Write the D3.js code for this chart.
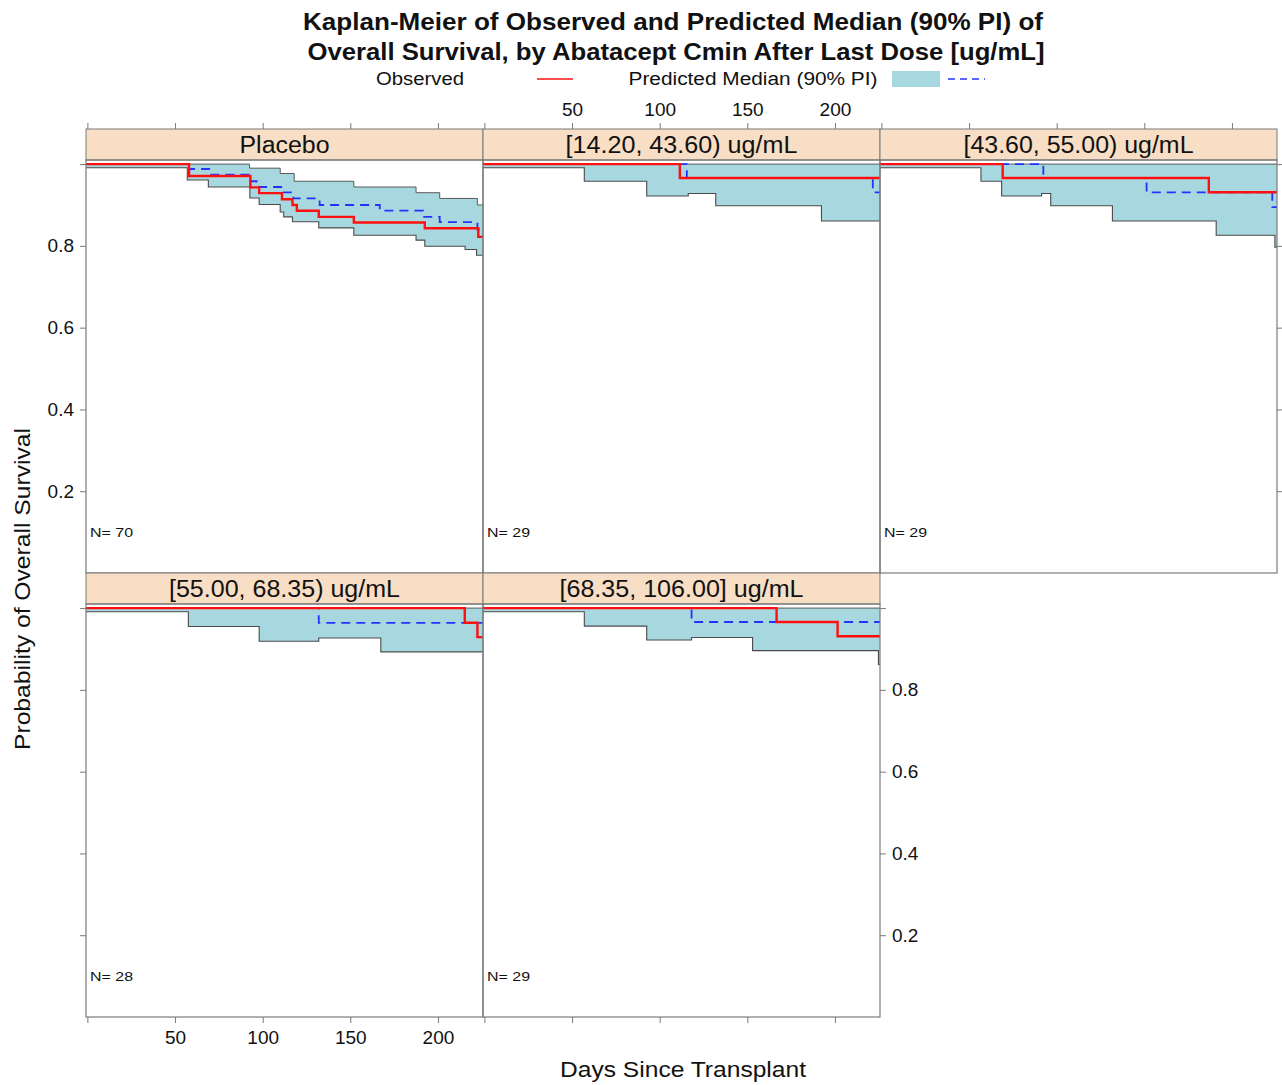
<!DOCTYPE html>
<html>
<head>
<meta charset="utf-8">
<script src="https://cdn.jsdelivr.net/npm/d3@7"></script>
<style>
  body { margin: 0; background: #fff; }
  svg { display: block; }
  text { font-family: "Liberation Sans", Arial, Helvetica, sans-serif; fill: #111; }
</style>
</head>
<body>
<svg id="chart" width="1282" height="1085"></svg>
<script>
// ---- data -------------------------------------------------------------
const panelLabels = [
  "Placebo",
  "[14.20, 43.60) ug/mL",
  "[43.60, 55.00) ug/mL",
  "[55.00, 68.35) ug/mL",
  "[68.35, 106.00] ug/mL"
];
const subjectCounts = [70, 29, 29, 28, 29];

// Kaplan-Meier step functions: [day, survival from that day on]
const observed = [
  [[0, 1], [58, 0.971], [93, 0.943], [98, 0.929], [111, 0.914], [117, 0.9], [119.5, 0.886],
   [132, 0.871], [152, 0.857], [192.5, 0.843], [223, 0.822]],
  [[0, 1], [111.5, 0.966]],
  [[0, 1], [69.2, 0.966], [186.8, 0.931]],
  [[0, 1], [215.3, 0.964], [222.5, 0.929]],
  [[0, 1], [166.7, 0.966], [201.5, 0.931]]
];
const predictedMedian = [
  [[0, 1], [58, 0.988], [69.5, 0.974], [93, 0.958], [96.5, 0.944], [111.5, 0.931], [117.5, 0.916],
   [132.5, 0.9], [166.8, 0.886], [191.6, 0.871], [201, 0.858], [222.5, 0.84]],
  [[0, 1], [115.5, 0.966], [221.6, 0.931]],
  [[0, 1], [92.4, 0.966], [151.3, 0.931], [223, 0.895]],
  [[0, 1], [132, 0.964]],
  [[0, 1], [118.2, 0.966]]
];
const piLower = [
  [[0, 0.991], [57, 0.961], [69, 0.944], [92.7, 0.917], [98, 0.901], [110, 0.883], [112, 0.871],
   [117, 0.859], [132, 0.844], [152, 0.826], [187.5, 0.814], [192.5, 0.799], [215.5, 0.791], [222, 0.777]],
  [[0, 0.991], [57, 0.958], [92.6, 0.922], [116.3, 0.928], [132, 0.898], [192.3, 0.861]],
  [[0, 0.991], [56.8, 0.958], [68.6, 0.922], [91.4, 0.928], [96.6, 0.898], [131.8, 0.861],
   [191, 0.826], [224.5, 0.797]],
  [[0, 0.991], [57.6, 0.955], [98, 0.919], [132, 0.927], [167.4, 0.893]],
  [[0, 0.991], [57, 0.956], [92.6, 0.922], [118.2, 0.928], [153, 0.896], [224.8, 0.862]]
];
const piUpper = [
  [[0, 1], [92.5, 0.99], [110, 0.977], [118, 0.958], [152, 0.944], [187.5, 0.93], [201, 0.916], [222.5, 0.9]],
  [[0, 1]],
  [[0, 1]],
  [[0, 1]],
  [[0, 1]]
];

const dayTicks = [0, 50, 100, 150, 200];
const survivalTicks = [0.2, 0.4, 0.6, 0.8, 1.0];

// ---- layout -----------------------------------------------------------
const colours = {
  strip: "#F7DEC4", band: "#A8D8DF", bandEdge: "#4a4a4a",
  observed: "#FF1010", median: "#2233FF", frame: "#7a7a7a"
};
const grid = { left: 86, top: 129, panelW: 397, stripH: 31, plotH: 413, cols: 3 };
const rowH = grid.stripH + grid.plotH;
const stripWidths = [90, 232, 230, 231, 244];

const x = d3.scaleLinear().domain([-0.8, 225.7]).range([0, grid.panelW]);
const y = d3.scaleLinear().domain([0, 1.01]).range([grid.plotH, 0]);
const dayEnd = x.domain()[1];
const dayStart = x.domain()[0];

const svg = d3.select("#chart");

function stepAt(steps, t) {
  let v = steps[0][1];
  for (const [d, val] of steps) if (d <= t) v = val;
  return v;
}
function extend(steps) {
  const pts = steps.map(([d, v], i) => [i === 0 ? dayStart : d, v]);
  pts.push([dayEnd, steps[steps.length - 1][1]]);
  return pts;
}

const stepLine = d3.line().x(d => x(d[0])).y(d => y(d[1])).curve(d3.curveStepAfter);
const band = d3.area()
  .x(d => x(d.t)).y0(d => y(d.lo)).y1(d => y(d.hi))
  .curve(d3.curveStepAfter);

// ---- title and legend ---------------------------------------------------
svg.append("text").attr("x", 673).attr("y", 30).attr("text-anchor", "middle")
  .attr("font-size", 23).attr("font-weight", "bold")
  .attr("textLength", 740).attr("lengthAdjust", "spacingAndGlyphs")
  .text("Kaplan-Meier of Observed and Predicted Median (90% PI) of");
svg.append("text").attr("x", 676).attr("y", 60).attr("text-anchor", "middle")
  .attr("font-size", 23).attr("font-weight", "bold")
  .attr("textLength", 737).attr("lengthAdjust", "spacingAndGlyphs")
  .text("Overall Survival, by Abatacept Cmin After Last Dose [ug/mL]");

const legend = svg.append("g");
legend.append("text").attr("x", 420).attr("y", 85).attr("text-anchor", "middle")
  .attr("font-size", 18).attr("textLength", 88).attr("lengthAdjust", "spacingAndGlyphs")
  .text("Observed");
legend.append("line").attr("x1", 537).attr("x2", 573).attr("y1", 79).attr("y2", 79)
  .attr("stroke", colours.observed).attr("stroke-width", 1.6);
legend.append("text").attr("x", 753).attr("y", 85).attr("text-anchor", "middle")
  .attr("font-size", 18).attr("textLength", 249).attr("lengthAdjust", "spacingAndGlyphs")
  .text("Predicted Median (90% PI)");
legend.append("rect").attr("x", 892).attr("y", 71).attr("width", 48).attr("height", 16)
  .attr("fill", colours.band);
legend.append("line").attr("x1", 948).attr("x2", 985).attr("y1", 79).attr("y2", 79)
  .attr("stroke", colours.median).attr("stroke-width", 1.6).attr("stroke-dasharray", "7,5");

// ---- panels -------------------------------------------------------------
panelLabels.forEach((label, i) => {
  const col = i % grid.cols, row = Math.floor(i / grid.cols);
  const px = grid.left + col * grid.panelW;
  const py = grid.top + row * rowH;
  const g = svg.append("g").attr("transform", `translate(${px},${py})`);

  // strip
  g.append("rect").attr("width", grid.panelW).attr("height", grid.stripH)
    .attr("fill", colours.strip).attr("stroke", colours.frame).attr("stroke-width", 1);
  g.append("text").attr("x", grid.panelW / 2).attr("y", grid.stripH / 2 + 8)
    .attr("text-anchor", "middle").attr("font-size", 23)
    .attr("textLength", stripWidths[i]).attr("lengthAdjust", "spacingAndGlyphs")
    .text(label);

  const plot = g.append("g").attr("transform", `translate(0,${grid.stripH})`);
  const clipId = "clip" + i;
  plot.append("clipPath").attr("id", clipId)
    .append("rect").attr("width", grid.panelW).attr("height", grid.plotH);
  const inner = plot.append("g").attr("clip-path", `url(#${clipId})`);

  // prediction interval band
  const times = Array.from(new Set([...piLower[i], ...piUpper[i]].map(d => d[0]))).sort((a, b) => a - b);
  const bandData = times.map((t, k) => ({
    t: k === 0 ? dayStart : t, lo: stepAt(piLower[i], t), hi: stepAt(piUpper[i], t)
  }));
  bandData.push({ t: dayEnd, lo: stepAt(piLower[i], dayEnd), hi: stepAt(piUpper[i], dayEnd) });
  inner.append("path").attr("d", band(bandData)).attr("fill", colours.band);
  inner.append("path").attr("d", stepLine(extend(piUpper[i])))
    .attr("fill", "none").attr("stroke", "#5a5a5a").attr("stroke-width", 1);
  inner.append("path").attr("d", stepLine(extend(piLower[i])))
    .attr("fill", "none").attr("stroke", colours.bandEdge).attr("stroke-width", 1.1);

  // predicted median
  inner.append("path").attr("d", stepLine(extend(predictedMedian[i])))
    .attr("fill", "none").attr("stroke", colours.median).attr("stroke-width", 1.8)
    .attr("stroke-dasharray", "9,6");

  // observed KM
  inner.append("path").attr("d", stepLine(extend(observed[i])))
    .attr("fill", "none").attr("stroke", colours.observed).attr("stroke-width", 2.4);

  // sample size
  plot.append("text").attr("x", x(1.5)).attr("y", y(0.1) + 4.5)
    .attr("font-size", 13).attr("textLength", 43).attr("lengthAdjust", "spacingAndGlyphs")
    .text("N= " + subjectCounts[i]);

  // frame
  plot.append("rect").attr("width", grid.panelW).attr("height", grid.plotH)
    .attr("fill", "none").attr("stroke", colours.frame).attr("stroke-width", 1.2);

  // axes (alternating sides, lattice style)
  const dayFmt = d => d === 0 ? "" : d;
  const survFmt = d => d >= 1 ? "" : d3.format(".1f")(d);
  const styleAxis = sel => {
    sel.select(".domain").remove();
    sel.selectAll(".tick line").attr("stroke", colours.frame);
    sel.selectAll(".tick text").attr("font-size", 19).attr("fill", "#111")
      .attr("font-family", "\"Liberation Sans\", Arial, sans-serif");
  };
  if (row === 0) {
    const top = d3.axisTop(x).tickValues(dayTicks).tickSize(6).tickPadding(7)
      .tickFormat(col === 1 ? dayFmt : () => "");
    g.append("g").call(top).call(styleAxis);
  }
  if (row === 1) {
    const bottom = d3.axisBottom(x).tickValues(dayTicks).tickSize(6).tickPadding(8)
      .tickFormat(col === 0 ? dayFmt : () => "");
    plot.append("g").attr("transform", `translate(0,${grid.plotH})`).call(bottom).call(styleAxis);
  }
  if (col === 0) {
    const left = d3.axisLeft(y).tickValues(survivalTicks).tickSize(6).tickPadding(6)
      .tickFormat(row === 0 ? survFmt : () => "");
    plot.append("g").call(left).call(styleAxis);
  }
  const lastInRow = (col === grid.cols - 1) || (i === panelLabels.length - 1);
  if (lastInRow) {
    const right = d3.axisRight(y).tickValues(survivalTicks).tickSize(6).tickPadding(6)
      .tickFormat(row === 1 ? survFmt : () => "");
    plot.append("g").attr("transform", `translate(${grid.panelW},0)`).call(right).call(styleAxis);
  }
});

// ---- axis titles ----------------------------------------------------------
svg.append("text").attr("x", 683).attr("y", 1077).attr("text-anchor", "middle")
  .attr("font-size", 22).attr("textLength", 246).attr("lengthAdjust", "spacingAndGlyphs")
  .text("Days Since Transplant");
svg.append("text").attr("transform", "translate(30,589) rotate(-90)").attr("text-anchor", "middle")
  .attr("font-size", 22).attr("textLength", 322).attr("lengthAdjust", "spacingAndGlyphs")
  .text("Probability of Overall Survival");
</script>
</body>
</html>
